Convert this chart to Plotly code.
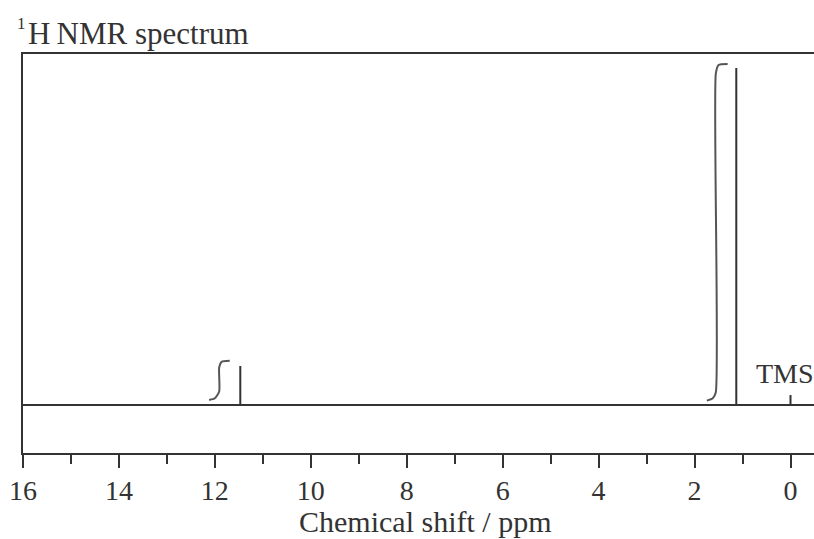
import plotly.graph_objects as go

# ---- data ----
peak_ppm = [11.47, 1.13, 0.0]          # signal positions (ppm)
peak_height = [11.6, 100.0, 3.0]       # relative intensities (TMS marker small)

# integral traces (ppm, height) control points
int1_ppm = [12.12, 12.00, 11.91, 11.91, 11.86, 11.69]
int1_h = [1.5, 2.0, 4.0, 11.2, 12.8, 13.1]
int2_ppm = [1.745, 1.62, 1.557, 1.557, 1.50, 1.31]
int2_h = [1.3, 2.0, 3.8, 98.3, 100.9, 101.2]

x_ticks = [16, 14, 12, 10, 8, 6, 4, 2, 0]
x_minor = [15, 13, 11, 9, 7, 5, 3, 1]
x_title = "Chemical shift / ppm"
chart_title = "H\u2009NMR spectrum"
ref_label = "TMS"

# ---- geometry ----
W, H = 814, 539
ML, MT, MB, MR = 23, 54, 86, 0
X_RANGE = [16, -0.49]
Y_RANGE = [-14.24, 104.15]

FONT = "Liberation Serif"
INK = "#333333"

# spectrum trace built from the peak list
sx, sy = [X_RANGE[0]], [0]
for p, h in sorted(zip(peak_ppm, peak_height), key=lambda t: -t[0]):
    sx += [p, p, p]
    sy += [0, h, 0]
sx.append(X_RANGE[1])
sy.append(0)

fig = go.Figure()
fig.add_trace(go.Scatter(x=sx, y=sy, mode="lines",
                         line=dict(color=INK, width=2), hoverinfo="skip"))
for ix, iy in [(int1_ppm, int1_h), (int2_ppm, int2_h)]:
    fig.add_trace(go.Scatter(x=ix, y=iy, mode="lines",
                             line=dict(color="#555555", width=2, shape="spline", smoothing=0.6),
                             hoverinfo="skip"))


def px_x(px):
    return (px - ML) / (W - ML - MR)


def px_y(py):
    return (H - MB - py) / (H - MT - MB)


fig.add_annotation(x=0.76, y=9.3, xref="x", yref="y", text=ref_label, showarrow=False,
                   xanchor="left", yanchor="middle", font=dict(family=FONT, size=28, color=INK))
fig.add_annotation(x=px_x(26), y=px_y(33), xref="paper", yref="paper", text=chart_title,
                   showarrow=False, xanchor="left", yanchor="middle",
                   font=dict(family=FONT, size=31, color=INK))
fig.add_annotation(x=px_x(15), y=px_y(24), xref="paper", yref="paper", text="1",
                   showarrow=False, xanchor="left", yanchor="middle",
                   font=dict(family=FONT, size=17, color=INK))
fig.add_annotation(x=px_x(425), y=px_y(521), xref="paper", yref="paper", text=x_title,
                   showarrow=False, xanchor="center", yanchor="middle",
                   font=dict(family=FONT, size=30, color=INK))

fig.update_layout(
    width=W, height=H,
    margin=dict(l=ML, r=MR, t=MT, b=MB),
    paper_bgcolor="white", plot_bgcolor="white",
    showlegend=False,
    xaxis=dict(range=X_RANGE, tickmode="array", tickvals=x_ticks,
               ticktext=[str(t) for t in x_ticks],
               ticks="outside", ticklen=13, tickwidth=2, tickcolor=INK,
               ticklabelstandoff=-2,
               minor=dict(tickvals=x_minor, ticks="outside",
                          ticklen=9, tickwidth=2, tickcolor=INK),
               showline=True, linecolor=INK, linewidth=2, mirror=True,
               showgrid=False, zeroline=False,
               tickfont=dict(family=FONT, size=28, color=INK)),
    yaxis=dict(range=Y_RANGE, showticklabels=False, ticks="", showgrid=False,
               zeroline=False, showline=True, linecolor=INK, linewidth=2, mirror=False),
)

fig.write_html("out.html")
